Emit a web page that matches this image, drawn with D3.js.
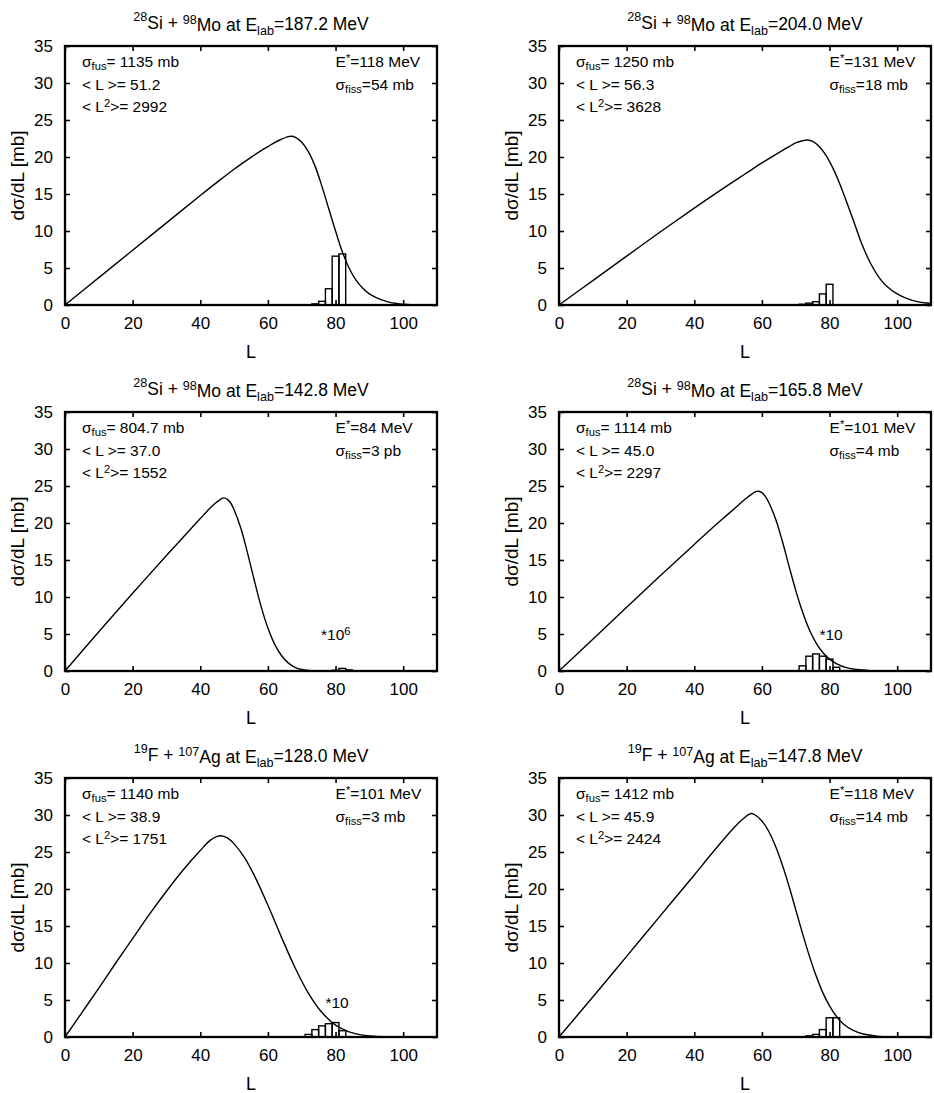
<!DOCTYPE html>
<html>
<head>
<meta charset="utf-8">
<script src="https://cdn.jsdelivr.net/npm/d3@7"></script>
<style>
  body { margin: 0; background: #fff; }
  svg { font-family: "Liberation Sans", Arial, Helvetica, sans-serif; }
</style>
</head>
<body>
<div id="vis"></div>
<script>
// ---- data ----
var titles = [
    {a: '28', pa: 'Si', b: '98', pb: 'Mo', e: '187.2'},
    {a: '28', pa: 'Si', b: '98', pb: 'Mo', e: '204.0'},
    {a: '28', pa: 'Si', b: '98', pb: 'Mo', e: '142.8'},
    {a: '28', pa: 'Si', b: '98', pb: 'Mo', e: '165.8'},
    {a: '19', pa: 'F', b: '107', pb: 'Ag', e: '128.0'},
    {a: '19', pa: 'F', b: '107', pb: 'Ag', e: '147.8'}
];
var sigmaFus = ['1135 mb', '1250 mb', '804.7 mb', '1114 mb', '1140 mb', '1412 mb'];
var meanL    = ['51.2', '56.3', '37.0', '45.0', '38.9', '45.9'];
var meanL2   = ['2992', '3628', '1552', '2297', '1751', '2424'];
var eStar    = ['118 MeV', '131 MeV', '84 MeV', '101 MeV', '101 MeV', '118 MeV'];
var sigmaFis = ['54 mb', '18 mb', '3 pb', '4 mb', '3 mb', '14 mb'];
// "*10^n" notes: exponent ('' = plain *10) and where they sit [L, dσ/dL]
var noteExp = [null, null, '6', '', '', null];
var noteAt  = [null, null, [75.7, 4.2], [77, 4.2], [77, 3.9], null];

// dσ/dL curves, [L, value]
var curve1 = [[0,0],[10,3.7],[20,7.4],[30,11.1],[40,14.8],[45,16.6],[50,18.35],[55,19.95],[58,20.85],[60,21.4],
    [62,21.95],[64,22.4],[66,22.75],[67,22.8],[68,22.7],[70,22.0],[72,20.7],[74,18.7],[76,16.0],[78,13.0],[80,10.0],
    [82,7.2],[84,5.0],[86,3.4],[88,2.3],[90,1.5],[92,1.0],[95,0.5],[98,0.2],[100,0.1],[105,0],[110,0]];
var curve2 = [[0,0],[10,3.3],[20,6.6],[30,9.9],[40,13.1],[50,16.2],[55,17.7],[60,19.2],[65,20.6],[68,21.4],[70,21.9],
    [72,22.2],[73.5,22.3],[75,22.1],[77,21.4],[79,20.2],[81,18.5],[83,16.4],[85,14.0],[87,11.5],[89,8.9],[91,6.7],
    [93,4.9],[95,3.5],[97,2.5],[100,1.5],[103,0.85],[106,0.45],[110,0.2]];
var curve3 = [[0,0],[10,5.3],[20,10.5],[30,15.6],[35,18.1],[40,20.6],[42,21.6],[44,22.5],[46,23.2],[47,23.4],[48,23.2],
    [49,22.7],[50,21.8],[52,19.3],[54,15.9],[56,12.2],[58,8.7],[60,5.8],[62,3.6],[64,2.1],[66,1.1],[68,0.5],
    [70,0.2],[72,0.08],[75,0],[110,0]];
var curve4 = [[0,0],[10,4.3],[20,8.6],[30,12.9],[40,17.1],[45,19.2],[50,21.2],[53,22.4],[55,23.2],[57,23.9],[58,24.2],
    [59,24.3],[60,24.1],[61,23.6],[62,22.8],[64,20.6],[66,17.6],[68,14.2],[70,10.9],[72,8.0],[74,5.6],[76,3.8],
    [78,2.5],[80,1.6],[82,1.0],[85,0.45],[88,0.2],[92,0.05],[96,0],[110,0]];
var curve5 = [[0,0],[5,3.3],[10,6.6],[15,10.0],[20,13.3],[25,16.6],[30,19.7],[35,22.6],[40,25.2],[43,26.6],[45,27.1],
    [46,27.2],[48,26.9],[50,26.1],[53,24.3],[56,21.8],[60,17.8],[64,13.5],[68,9.4],[72,5.9],[76,3.3],[80,1.6],
    [84,0.7],[88,0.25],[92,0.08],[96,0],[110,0]];
var curve6 = [[0,0],[10,5.4],[20,10.9],[30,16.4],[40,21.9],[45,24.7],[50,27.4],[53,28.9],[55,29.7],[56,30.05],[57,30.2],
    [58,30.0],[60,29.2],[62,27.8],[64,25.8],[66,23.3],[68,20.4],[70,17.2],[72,14.0],[74,11.0],[76,8.3],[78,6.0],
    [80,4.2],[82,2.8],[84,1.8],[87,0.9],[90,0.4],[94,0.12],[98,0.03],[100,0],[110,0]];
var curves = [curve1, curve2, curve3, curve4, curve5, curve6];

// fission histograms, [Lfrom, Lto, value]
var hist1 = [[73,75,0.15],[75,77,0.5],[77,79,2.2],[79,81,6.6],[81,83,6.9]];
var hist2 = [[71,73,0.1],[73,75,0.25],[75,77,0.45],[77,79,1.5],[79,81,2.8]];
var hist3 = [[79,81,0.1],[81,83,0.35],[83,85,0.15]];
var hist4 = [[71,73,0.7],[73,75,2.0],[75,77,2.3],[77,79,2.0],[79,81,1.6],[81,83,0.5]];
var hist5 = [[71,73,0.35],[73,75,1.0],[75,77,1.5],[77,79,1.8],[79,81,1.95],[81,83,0.85]];
var hist6 = [[73,75,0.15],[75,77,0.35],[77,79,1.0],[79,81,2.6],[81,83,2.6]];
var hists = [hist1, hist2, hist3, hist4, hist5, hist6];

var xTicks = [0, 20, 40, 60, 80, 100];
var yTicks = [0, 5, 10, 15, 20, 25, 30, 35];

// ---- layout ----
var W = 934, H = 1093;
var svg = d3.select('#vis').append('svg')
    .attr('width', W)
    .attr('height', H);

var colX = [65, 559];
var rowY = [46, 412, 778];
var pw = 372, ph = 259;

var x = d3.scaleLinear().domain([0, 110]).range([0, pw]);
var y = d3.scaleLinear().domain([0, 35]).range([ph, 0]);

var line = d3.line()
    .curve(d3.curveCatmullRom.alpha(0.5))
    .x(d => x(d[0]))
    .y(d => y(d[1]));

function supSub(sel, parts) {
    // parts: [text, 'sup'|'sub'|null, dy override]
    parts.forEach(p => {
        var t = sel.append('tspan').text(p[0]);
        if (p[1] === 'sup') t.attr('dy', '-0.45em').attr('font-size', '0.72em');
        if (p[1] === 'sub') t.attr('dy', '0.3em').attr('font-size', '0.72em');
        if (p[2]) t.attr('dy', p[2]);
    });
}

curves.forEach((data, i) => {
    var col = i % 2, row = Math.floor(i / 2);
    var g = svg.append('g')
        .attr('transform', 'translate(' + colX[col] + ',' + rowY[row] + ')');

    // title
    var t = titles[i];
    var title = g.append('text')
        .attr('x', pw / 2)
        .attr('y', -19)
        .attr('text-anchor', 'middle')
        .attr('font-size', 17.5);
    supSub(title, [[t.a, 'sup'], [t.pa + ' + ', null, '0.45em'], [t.b, 'sup'], [t.pb + ' at E', null, '0.45em'],
        ['lab', 'sub'], ['=' + t.e + ' MeV', null, '-0.3em']]);

    // axes, ticks inside on all four sides
    var xa = g.append('g')
        .attr('transform', 'translate(0,' + ph + ')')
        .call(d3.axisBottom(x).tickValues(xTicks).tickSize(-5).tickPadding(12));
    var xt = g.append('g')
        .call(d3.axisTop(x).tickValues(xTicks).tickSize(-5).tickFormat(''));
    var ya = g.append('g')
        .call(d3.axisLeft(y).tickValues(yTicks).tickSize(-5).tickPadding(12));
    var yr = g.append('g')
        .attr('transform', 'translate(' + pw + ',0)')
        .call(d3.axisRight(y).tickValues(yTicks).tickSize(-5).tickFormat(''));
    [xa, xt, ya, yr].forEach(a => {
        a.select('.domain').remove();
        a.selectAll('line').attr('stroke', '#000').attr('stroke-width', 1.6);
        a.selectAll('text').attr('font-size', 17).attr('fill', '#000')
            .attr('font-family', '"Liberation Sans", Arial, sans-serif');
    });

    // axis titles
    g.append('text')
        .attr('x', pw / 2)
        .attr('y', ph + 53)
        .attr('text-anchor', 'middle')
        .attr('font-size', 18)
        .text('L');
    g.append('text')
        .attr('transform', 'translate(-41,' + (ph / 2) + ') rotate(-90)')
        .attr('text-anchor', 'middle')
        .attr('font-size', 19)
        .text('dσ/dL [mb]');

    // histogram
    g.selectAll('.bar')
        .data(hists[i])
        .enter().append('rect')
        .attr('class', 'bar')
        .attr('x', d => x(d[0]))
        .attr('width', d => x(d[1]) - x(d[0]))
        .attr('y', d => y(d[2]))
        .attr('height', d => y(0) - y(d[2]))
        .attr('fill', 'none')
        .attr('stroke', '#000')
        .attr('stroke-width', 1.4);

    // curve
    g.append('path')
        .attr('fill', 'none')
        .attr('stroke', '#000')
        .attr('stroke-width', 1.4)
        .attr('d', line(data));

    // frame
    g.append('rect')
        .attr('width', pw)
        .attr('height', ph)
        .attr('fill', 'none')
        .attr('stroke', '#000')
        .attr('stroke-width', 2.3);

    // annotations
    var fs = 15.5;
    var a1 = g.append('text').attr('x', 17).attr('y', 21).attr('font-size', fs);
    supSub(a1, [['σ', null], ['fus', 'sub'], ['= ' + sigmaFus[i], null, '-0.216em']]);
    g.append('text').attr('x', 17).attr('y', 44).attr('font-size', fs).text('< L >= ' + meanL[i]);
    var a3 = g.append('text').attr('x', 17).attr('y', 66).attr('font-size', fs);
    supSub(a3, [['< L', null], ['2', 'sup'], ['>= ' + meanL2[i], null, '0.324em']]);

    var a4 = g.append('text').attr('x', x(80)).attr('y', 21).attr('font-size', fs);
    supSub(a4, [['E', null], ['*', 'sup'], ['=' + eStar[i], null, '0.324em']]);
    var a5 = g.append('text').attr('x', x(80)).attr('y', 44).attr('font-size', fs);
    supSub(a5, [['σ', null], ['fiss', 'sub'], ['=' + sigmaFis[i], null, '-0.216em']]);

    if (noteExp[i] !== null) {
        var n = g.append('text')
            .attr('x', x(noteAt[i][0]))
            .attr('y', y(noteAt[i][1]))
            .attr('font-size', fs);
        if (noteExp[i] === '') n.text('*10');
        else supSub(n, [['*10', null], [noteExp[i], 'sup']]);
    }
});
</script>
</body>
</html>
